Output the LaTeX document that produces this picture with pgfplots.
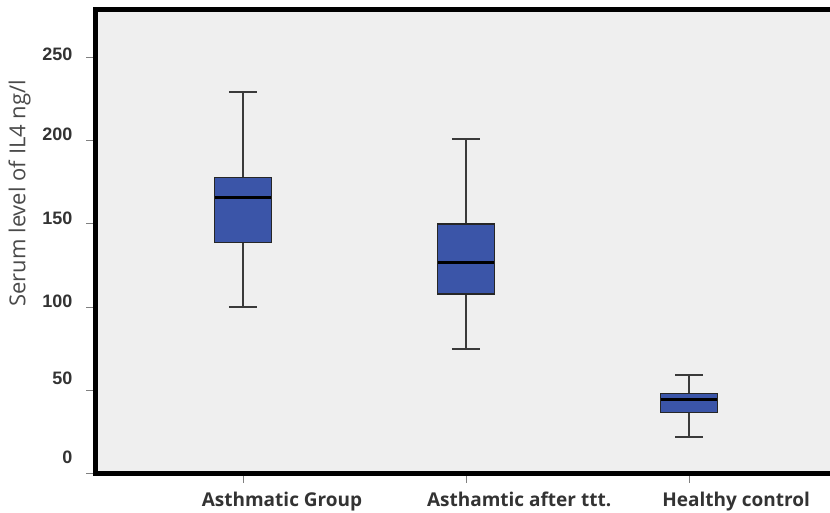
\documentclass[border=0pt]{standalone}
\usepackage{pgfplots}
\pgfplotsset{compat=1.18}
\usepackage{fontspec}
\setmainfont{Open Sans}
\newfontfamily\tickfont{Liberation Sans}
\definecolor{bg}{HTML}{EFEFEF}
\definecolor{boxblue}{RGB}{59,85,168}
\definecolor{txt}{HTML}{333333}
\definecolor{ylab}{HTML}{4A4A4A}
\definecolor{whisk}{HTML}{3A3A3A}
\begin{document}
\begin{tikzpicture}
\begin{axis}[name=ax, scale only axis, width=734.5pt, height=464pt,
  xmin=0.3386, xmax=3.632, ymin=0, ymax=278.3,
  clip=false,
  axis background/.style={fill=bg},
  axis line style={draw=none},
  tick pos=left, tick align=outside,
  major tick length=9pt,
  tick style={draw=gray, line width=1pt},
  ytick={0,50,100,150,200,250},
  yticklabels={\raisebox{11pt}{0},\raisebox{6pt}{50},100,150,200,\raisebox{-3pt}{250}},
  yticklabel style={anchor=base east, inner sep=0pt, xshift=-14pt, yshift=-0.3pt,
    font=\fontsize{18}{18}\selectfont\tickfont\bfseries, text=txt},
  xtick={1,2,3}, xticklabels={,,},
  extra x ticks={1.175,2.238,3.211},
  extra x tick labels={Asthmatic Group, Asthamtic after ttt., Healthy control},
  extra x tick style={tick style={draw=none},
    xticklabel style={anchor=base, inner sep=0pt, yshift=-24pt,
    font=\fontsize{19}{19}\selectfont\bfseries, text=txt}},
  ylabel={Serum level of IL4 ng/l},
  ylabel style={at={(axis description cs:-0.1035,0.605)}, anchor=center,
    font=\fontsize{22}{22}\selectfont, text=ylab},
  whisker/.style={draw=whisk, line width=1.8pt},
  box/.style={fill=boxblue, draw=black!85, line width=1.2pt, line join=miter},
  med/.style={draw=black, line width=3pt},
]
% Asthmatic Group: lower whisker 100.4, Q1 138.8, median 166, Q3 178, upper whisker 229
\addplot[whisker] coordinates {(1,100.4) (1,229)};
\addplot[whisker] coordinates {(0.937,229) (1.063,229)};
\addplot[whisker] coordinates {(0.937,100.4) (1.063,100.4)};
\addplot[box] coordinates {(0.872,138.8) (1.128,138.8) (1.128,178) (0.872,178) (0.872,138.8)} -- cycle;
\addplot[med] coordinates {(0.874,166) (1.126,166)};
% Asthamtic after ttt.: 75, 108, 126.8, 150, 201
\addplot[whisker] coordinates {(2,75) (2,201)};
\addplot[whisker] coordinates {(1.937,201) (2.063,201)};
\addplot[whisker] coordinates {(1.937,75) (2.063,75)};
\addplot[box] coordinates {(1.872,108) (2.128,108) (2.128,150) (1.872,150) (1.872,108)} -- cycle;
\addplot[med] coordinates {(1.874,126.8) (2.126,126.8)};
% Healthy control: 22, 36.8, 44.4, 48.4, 59.2
\addplot[whisker] coordinates {(3,22) (3,59.2)};
\addplot[whisker] coordinates {(2.937,59.2) (3.063,59.2)};
\addplot[whisker] coordinates {(2.937,22) (3.063,22)};
\addplot[box] coordinates {(2.872,36.8) (3.128,36.8) (3.128,48.4) (2.872,48.4) (2.872,36.8)} -- cycle;
\addplot[med] coordinates {(2.874,44.4) (3.126,44.4)};
\draw[line width=5pt, black] (rel axis cs:1,0) -- (rel axis cs:0,0) -- (rel axis cs:0,1) -- (rel axis cs:1,1);
\end{axis}
\pgfresetboundingbox
\path[use as bounding box] (ax.south west) ++(-95.5pt,-39pt) rectangle ++(830pt,513pt);
\end{tikzpicture}
\end{document}
